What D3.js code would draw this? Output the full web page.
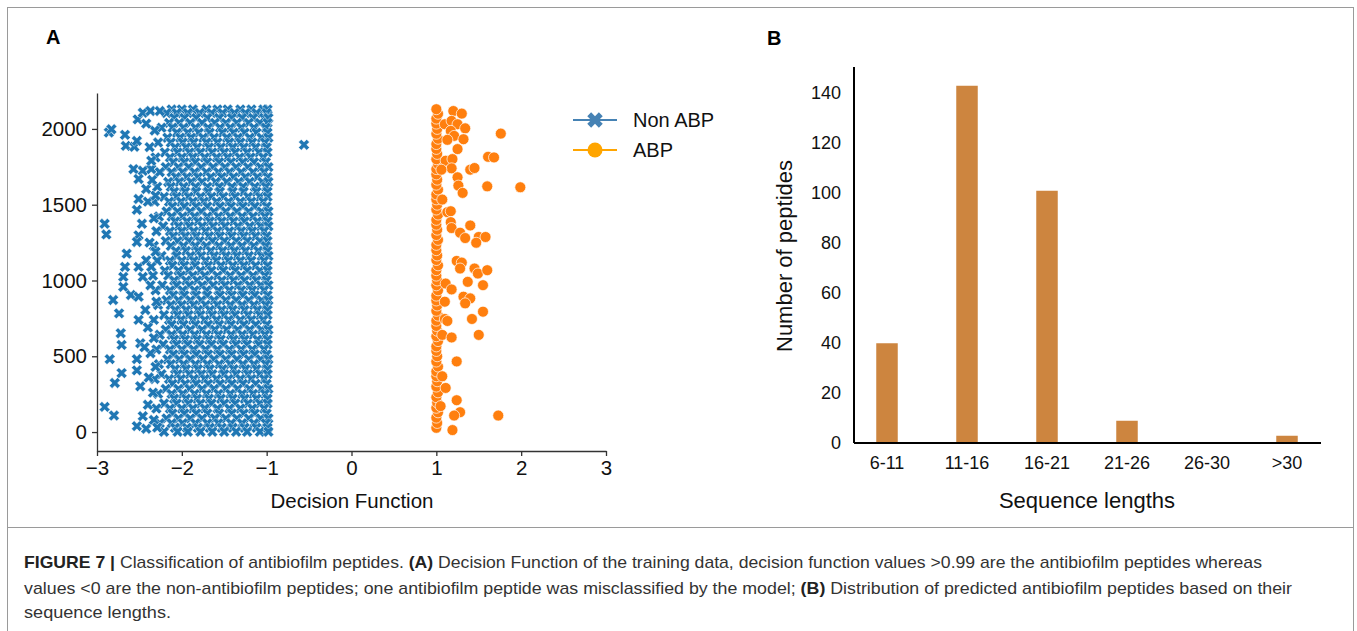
<!DOCTYPE html>
<html>
<head>
<meta charset="utf-8">
<script src="https://cdn.jsdelivr.net/npm/d3@7"></script>
<style>
  body { margin: 0; background: #fff; }
  svg { display: block; font-family: "Liberation Sans", Arial, Helvetica, sans-serif; }
  .cap { font-family: "Liberation Sans", Arial, sans-serif; font-size: 17px; fill: #333; }
</style>
</head>
<body>
<svg id="fig" width="1357" height="631"></svg>
<script>
// ---- panel A : decision function scatter ----
// dense Non ABP cloud, one row per line: "y|x,x,x..." (x in hundredths)
const nonAbpRows = [
  "2128|-212,-200,-187,-171,-158,-146,-131,-118,-104,-99",
  "2105|-218,-206,-193,-179,-165,-152,-138,-125,-112,-100",
  "2072|-209,-197,-183,-170,-156,-141,-129,-116,-103,-98",
  "2040|-215,-203,-190,-176,-161,-148,-135,-121,-108,-99",
  "2008|-224,-211,-198,-184,-169,-155,-143,-130,-115,-101",
  "1975|-206,-193,-180,-167,-152,-139,-126,-112,-99",
  "1942|-217,-202,-189,-175,-162,-147,-134,-120,-106,-98",
  "1910|-228,-213,-199,-186,-171,-158,-144,-131,-117,-102",
  "1878|-208,-195,-182,-168,-154,-140,-127,-113,-100",
  "1845|-220,-205,-191,-178,-164,-150,-137,-123,-109,-99",
  "1812|-231,-214,-200,-187,-173,-159,-146,-132,-119,-104",
  "1780|-210,-197,-184,-170,-156,-142,-128,-115,-101",
  "1748|-219,-204,-192,-177,-163,-149,-136,-122,-107,-98",
  "1715|-226,-212,-199,-185,-171,-157,-144,-130,-116,-103",
  "1682|-207,-194,-181,-166,-153,-139,-125,-111,-99",
  "1650|-216,-203,-189,-176,-160,-147,-133,-120,-105,-98",
  "1618|-229,-213,-198,-184,-170,-156,-141,-128,-114,-101",
  "1585|-209,-196,-183,-169,-155,-140,-127,-112,-99",
  "1552|-221,-206,-192,-178,-165,-151,-137,-122,-108,-99",
  "1520|-232,-215,-201,-187,-174,-159,-145,-131,-118,-104",
  "1488|-211,-197,-183,-170,-155,-142,-128,-114,-100",
  "1455|-218,-205,-190,-177,-162,-148,-135,-121,-106,-98",
  "1422|-227,-212,-199,-185,-170,-157,-143,-129,-116,-102",
  "1390|-208,-194,-181,-167,-153,-139,-126,-111,-99",
  "1358|-222,-204,-191,-176,-163,-149,-134,-120,-107,-98",
  "1325|-230,-214,-200,-186,-172,-158,-144,-130,-117,-103",
  "1292|-210,-196,-183,-168,-155,-141,-127,-113,-100",
  "1260|-219,-205,-192,-179,-164,-150,-136,-123,-108,-99",
  "1228|-233,-213,-198,-184,-171,-156,-142,-129,-115,-101",
  "1195|-207,-195,-181,-166,-152,-138,-125,-110,-99",
  "1162|-224,-206,-190,-177,-162,-148,-135,-121,-106,-98",
  "1130|-229,-214,-200,-186,-172,-159,-145,-131,-118,-103",
  "1098|-211,-197,-184,-169,-154,-140,-127,-113,-99",
  "1065|-220,-204,-192,-178,-165,-151,-137,-123,-108,-99",
  "1032|-234,-216,-201,-187,-173,-158,-143,-130,-116,-102",
  "1000|-209,-195,-182,-168,-153,-139,-126,-112,-100",
  "968|-223,-206,-191,-176,-163,-149,-134,-120,-107,-98",
  "935|-231,-214,-199,-185,-171,-157,-144,-130,-117,-103",
  "902|-210,-197,-183,-170,-155,-141,-128,-114,-99",
  "870|-218,-204,-190,-177,-162,-148,-136,-121,-106,-98",
  "838|-228,-213,-200,-186,-172,-158,-143,-129,-115,-101",
  "805|-208,-195,-181,-167,-153,-140,-126,-111,-99",
  "772|-221,-205,-192,-178,-164,-150,-137,-122,-108,-99",
  "740|-233,-215,-201,-187,-173,-159,-145,-131,-118,-104",
  "708|-212,-198,-184,-169,-156,-142,-127,-113,-100",
  "675|-219,-204,-190,-176,-161,-147,-134,-120,-106,-98",
  "642|-226,-212,-199,-185,-171,-157,-142,-129,-116,-102",
  "610|-209,-196,-182,-168,-154,-139,-126,-111,-99",
  "578|-222,-206,-193,-179,-165,-151,-136,-123,-109,-99",
  "545|-230,-214,-200,-186,-172,-158,-144,-130,-117,-103",
  "512|-210,-197,-183,-169,-155,-141,-127,-114,-100",
  "480|-217,-203,-190,-175,-162,-148,-135,-121,-107,-98",
  "448|-227,-213,-198,-184,-170,-156,-143,-128,-115,-101",
  "415|-208,-195,-181,-167,-152,-139,-125,-112,-99",
  "382|-224,-205,-191,-177,-164,-150,-136,-122,-108,-99",
  "350|-232,-215,-201,-186,-173,-159,-145,-131,-118,-103",
  "318|-211,-196,-183,-169,-155,-141,-128,-113,-100",
  "285|-219,-204,-191,-176,-162,-148,-134,-120,-106,-98",
  "252|-228,-212,-199,-185,-171,-157,-143,-129,-116,-102",
  "220|-209,-195,-182,-168,-154,-140,-126,-112,-99",
  "188|-221,-206,-192,-178,-165,-150,-137,-122,-108,-99",
  "155|-230,-214,-200,-187,-173,-158,-144,-131,-117,-103",
  "122|-211,-197,-183,-170,-156,-141,-127,-114,-100",
  "90|-218,-204,-190,-176,-161,-148,-135,-121,-107,-98",
  "58|-226,-212,-199,-184,-170,-157,-142,-129,-115,-101",
  "28|-208,-194,-181,-167,-153,-140,-126,-112,-99",
  "2|-221,-205,-193,-178,-164,-150,-136,-123,-108,-98"
];

// loose Non ABP points on the left edge, plus the one misclassified peptide
const nonAbpSparse = [
  [-2.86,1976],[-2.83,1998],[-2.67,1961],[-2.66,1888],[-2.56,1882],[-2.53,1921],
  [-2.52,2063],[-2.46,2107],[-2.37,2118],[-2.26,2118],[-2.57,1735],[-2.46,1724],
  [-2.36,1735],[-2.51,1670],[-2.42,1604],[-2.35,1663],[-2.51,1538],[-2.53,1466],
  [-2.47,1374],[-2.51,1298],[-2.53,1254],[-2.65,1177],[-2.67,1090],[-2.69,1024],
  [-2.69,958],[-2.60,904],[-2.81,871],[-2.74,783],[-2.72,652],[-2.71,575],
  [-2.85,481],[-2.71,389],[-2.79,324],[-2.91,166],[-2.80,109],[-2.53,39],
  [-2.42,22],[-2.53,481],[-2.53,407],[-2.49,302],[-2.46,105],[-2.49,586],
  [-2.51,740],[-2.43,805],[-2.51,893],[-2.37,969],[-2.46,1024],[-2.51,1090],
  [-2.42,1133],[-2.91,1374],[-2.89,1304],[-2.38,1880],[-2.32,1990],[-2.40,1520],
  [-2.33,1410],[-2.38,1250],[-2.31,1190],[-2.40,690],[-2.33,620],[-2.37,520],
  [-2.31,430],[-2.39,360],[-2.34,260],[-2.40,180],[-2.33,80],[-2.29,30],
  [-2.42,2035],[-2.36,1790],[-2.31,1560],[-2.36,1090],[-2.30,860],[-2.44,560],
  [-0.56,1895]
];

// ABP points: the column near 1.0 and the spread to the right
const abpPoints = [
  [1.00,28],[1.01,60],[1.00,95],[1.02,130],[1.00,160],[1.01,195],[1.00,230],
  [1.02,262],[1.00,300],[1.01,335],[1.00,368],[1.00,400],[1.02,432],[1.00,465],
  [1.01,500],[1.00,535],[1.00,565],[1.02,600],[1.00,632],[1.01,668],[1.00,700],
  [1.00,735],[1.02,768],[1.00,800],[1.01,835],[1.00,868],[1.00,900],[1.02,935],
  [1.00,968],[1.01,1000],[1.00,1032],[1.00,1068],[1.02,1100],[1.00,1135],
  [1.01,1165],[1.00,1200],[1.00,1235],[1.02,1268],[1.00,1300],[1.01,1335],
  [1.00,1368],[1.00,1400],[1.02,1435],[1.00,1468],[1.01,1500],[1.00,1535],
  [1.00,1568],[1.02,1600],[1.00,1632],[1.01,1665],[1.00,1700],[1.00,1735],
  [1.02,1768],[1.00,1800],[1.01,1835],[1.00,1868],[1.00,1900],[1.02,1935],
  [1.00,1968],[1.01,2000],[1.00,2035],[1.00,2068],[1.02,2100],[1.00,2130],
  [1.20,2118],[1.30,2101],[1.10,2031],[1.18,2053],[1.25,2031],[1.34,2004],
  [1.17,1987],[1.76,1969],[1.21,1954],[1.13,1928],[1.32,1932],[1.25,1867],
  [1.11,1790],[1.19,1801],[1.61,1816],[1.68,1812],[1.18,1740],[1.40,1731],
  [1.45,1742],[1.06,1731],[1.25,1681],[1.26,1626],[1.31,1578],[1.60,1621],
  [1.99,1615],[1.07,1534],[1.13,1451],[1.17,1457],[1.17,1385],[1.18,1346],
  [1.40,1363],[1.28,1315],[1.34,1280],[1.50,1287],[1.58,1287],[1.47,1249],
  [1.24,1129],[1.30,1118],[1.28,1079],[1.45,1079],[1.49,1046],[1.60,1068],
  [1.37,991],[1.11,980],[1.18,941],[1.55,969],[1.32,893],[1.40,882],[1.34,849],
  [1.10,860],[1.55,794],[1.42,746],[1.10,746],[1.13,733],[1.50,641],[1.07,641],
  [1.18,624],[1.24,466],[1.07,368],[1.11,291],[1.24,210],[1.05,171],[1.28,131],
  [1.21,109],[1.73,109],[1.19,13]
];

const aXTicks = [-3, -2, -1, 0, 1, 2, 3];
const aYTicks = [0, 500, 1000, 1500, 2000];
const legendItems = ["Non ABP", "ABP"];

// ---- panel B : sequence length histogram ----
const lengthBins = ["6-11", "11-16", "16-21", "21-26", "26-30", ">30"];
const peptideCounts = [40, 143, 101, 9, 0, 3];
const bYTicks = [0, 20, 40, 60, 80, 100, 120, 140];

const captionLines = [
  [["FIGURE 7 |", true], [" Classification of antibiofilm peptides. ", false], ["(A)", true],
   [" Decision Function of the training data, decision function values >0.99 are the antibiofilm peptides whereas", false]],
  [["values <0 are the non-antibiofilm peptides; one antibiofilm peptide was misclassified by the model; ", false],
   ["(B)", true], [" Distribution of predicted antibiofilm peptides based on their", false]],
  [["sequence lengths.", false]]
];

const svg = d3.select("#fig");

// figure frame + caption rule
svg.append("rect").attr("x", 7.5).attr("y", 7.5).attr("width", 1346).attr("height", 700)
  .attr("fill", "none").attr("stroke", "#9a9a9a").attr("stroke-width", 1);
svg.append("line").attr("x1", 7.5).attr("x2", 1353.5).attr("y1", 527.5).attr("y2", 527.5)
  .attr("stroke", "#9a9a9a");

// ===== panel A =====
const xA = d3.scaleLinear().domain([-3, 3]).range([97, 606]);
const yA = d3.scaleLinear().domain([-125, 2237]).range([451, 93]);

svg.append("text").attr("x", 46).attr("y", 44).attr("font-size", 20).attr("font-weight", "bold").text("A");

let nonAbp = [];
nonAbpRows.forEach(r => {
  let [y, xs] = r.split("|");
  xs.split(",").forEach(x => nonAbp.push([+x / 100, +y]));
});
nonAbp = nonAbp.concat(nonAbpSparse);

const xMark = d3.symbol().type(d3.symbolCross).size(74);
const gA = svg.append("g");
gA.selectAll("path.nab")
  .data(nonAbp)
  .enter().append("path")
  .attr("class", "nab")
  .attr("d", xMark)
  .attr("transform", d => `translate(${xA(d[0])},${yA(d[1])}) rotate(45)`)
  .attr("fill", "#1f77b4")
  .attr("stroke", "#fff")
  .attr("stroke-width", 0.45);

gA.selectAll("circle.abp")
  .data(abpPoints)
  .enter().append("circle")
  .attr("class", "abp")
  .attr("cx", d => xA(d[0]))
  .attr("cy", d => yA(d[1]))
  .attr("r", 5.5)
  .attr("fill", "#ff7f0e")
  .attr("stroke", "#fff")
  .attr("stroke-width", 0.7);

const axA_x = svg.append("g").attr("transform", "translate(0,451)")
  .call(d3.axisBottom(xA).tickValues(aXTicks).tickSize(5).tickSizeOuter(0).tickPadding(4).tickFormat(d3.format("d")));
const axA_y = svg.append("g").attr("transform", "translate(97,0)")
  .call(d3.axisLeft(yA).tickValues(aYTicks).tickSize(5).tickSizeOuter(0).tickPadding(5).tickFormat(d3.format("d")));
[axA_x, axA_y].forEach(a => {
  a.selectAll("text").attr("font-size", 20.5).attr("font-family", "Liberation Sans, Arial, sans-serif").attr("fill", "#111");
  a.select(".domain").attr("stroke", "#333").attr("stroke-width", 1.3);
  a.selectAll(".tick line").attr("stroke", "#333").attr("stroke-width", 1.3);
});

svg.append("text").attr("x", 352).attr("y", 508).attr("text-anchor", "middle")
  .attr("font-size", 20.5).attr("fill", "#111").text("Decision Function");

// legend
const legColors = ["#4682b4", "#ffa500"];
const leg = svg.append("g");
legendItems.forEach((name, i) => {
  const y = 120 + i * 30;
  leg.append("line").attr("x1", 573).attr("x2", 617).attr("y1", y).attr("y2", y)
    .attr("stroke", legColors[i]).attr("stroke-width", 2);
  if (i === 0) {
    leg.append("path").attr("d", d3.symbol().type(d3.symbolCross).size(150))
      .attr("transform", `translate(595,${y}) rotate(45)`).attr("fill", legColors[i]);
  } else {
    leg.append("circle").attr("cx", 595).attr("cy", y).attr("r", 7.5).attr("fill", legColors[i]);
  }
  leg.append("text").attr("x", 633).attr("y", y + 7).attr("font-size", 20).attr("fill", "#111").text(name);
});

// ===== panel B =====
const xB = d3.scaleBand().domain(lengthBins).range([847, 1327]);
const yB = d3.scaleLinear().domain([0, 150.4]).range([443, 67]);

svg.append("text").attr("x", 767).attr("y", 45).attr("font-size", 20).attr("font-weight", "bold").text("B");

svg.append("g").selectAll("rect")
  .data(lengthBins)
  .enter().append("rect")
  .attr("x", d => xB(d) + xB.bandwidth() / 2 - 11)
  .attr("width", 22)
  .attr("y", (d, i) => yB(peptideCounts[i]))
  .attr("height", (d, i) => yB(0) - yB(peptideCounts[i]))
  .attr("fill", "#cd853f")
  .attr("stroke", "#fff")
  .attr("stroke-width", 0.5);

const axB_x = svg.append("g").attr("transform", "translate(0,443)")
  .call(d3.axisBottom(xB).tickSize(0).tickPadding(13));
axB_x.select(".domain").attr("d", "M854,0H1321");
const axB_y = svg.append("g").attr("transform", "translate(854,0)")
  .call(d3.axisLeft(yB).tickValues(bYTicks).tickSize(0).tickPadding(13));
axB_y.select(".domain").attr("d", "M0,67V443");
[axB_x, axB_y].forEach(a => {
  a.selectAll("text").attr("font-size", 18).attr("font-family", "Liberation Sans, Arial, sans-serif").attr("fill", "#111");
  a.select(".domain").attr("stroke", "#000").attr("stroke-width", 2);
});

svg.append("text").attr("x", 1087).attr("y", 508).attr("text-anchor", "middle")
  .attr("font-size", 22).attr("fill", "#111").text("Sequence lengths");
svg.append("text").attr("transform", "translate(792,256) rotate(-90)").attr("text-anchor", "middle")
  .attr("font-size", 22).attr("fill", "#111").text("Number of peptides");

// ===== caption =====
const capY = [568, 594, 618];
const capEnd = [1262, 1292, 171];
captionLines.forEach((segs, i) => {
  const t = svg.append("text").attr("class", "cap").attr("x", 24).attr("y", capY[i])
    .attr("textLength", capEnd[i] - 24).attr("lengthAdjust", "spacingAndGlyphs");
  segs.forEach(s => {
    t.append("tspan").attr("font-weight", s[1] ? "bold" : "normal").attr("fill", s[1] ? "#222" : "#333").text(s[0]);
  });
});
</script>
</body>
</html>
